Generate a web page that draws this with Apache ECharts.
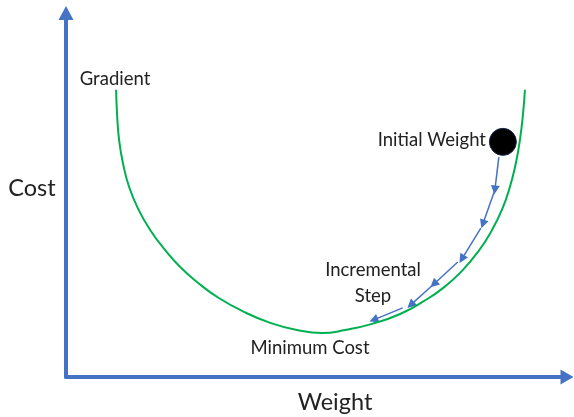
<!DOCTYPE html>
<html>
<head>
<meta charset="utf-8">
<script src="https://cdn.jsdelivr.net/npm/echarts@6/dist/echarts.min.js"></script>
<style>html,body{margin:0;padding:0;background:#fff}#c{width:574px;height:417px}</style>
</head>
<body>
<div id="c"></div>
<script>
// Cost curve (weight, cost), axis units 0-100
const curveWeight = [10.0, 10.2, 10.6, 11.4, 12.6, 14.4, 16.8, 19.6, 22.8, 26.4, 30.5, 35.5, 40.9, 46.1, 51.1, 55.7, 61.1, 66.7, 71.5, 75.5, 79.0, 82.2, 84.8, 87.0, 88.6, 89.8, 90.6, 91.2, 91.6];
const curveCost   = [78.9, 72.0, 65.1, 58.5, 52.2, 46.2, 40.4, 35.2, 30.2, 25.8, 21.7, 17.9, 14.8, 12.9, 12.1, 12.9, 14.6, 17.3, 20.9, 24.7, 29.1, 34.3, 39.8, 45.9, 52.2, 58.8, 65.1, 72.0, 78.9];
// Initial weight point
const initialWeight = [87.2, 64.6];
// Incremental steps: start and end (weight, cost)
const stepFromW = [86.4, 85.6, 82.8, 78.2, 73.0, 67.2];
const stepFromC = [60.4, 51.4, 40.9, 31.6, 25.0, 19.0];
const stepToW   = [85.6, 83.2, 79.0, 73.4, 68.8, 61.4];
const stepToC   = [51.4, 42.0, 32.4, 25.5, 19.8, 15.7];
// Texts
const xTitle = 'Weight';
const yTitle = 'Cost';
const labels = ['Gradient', 'Initial Weight', 'Incremental', 'Step', 'Minimum Cost'];

const chart = echarts.init(document.getElementById('c'));
const blue = '#4472C4';
const font = 'Lato, "Open Sans", sans-serif';
const txt = '#222';

function t(text, x, y, size, align) {
  return { type: 'text', x: x, y: y, style: { text: text, fill: txt, font: size + 'px ' + font, textAlign: align || 'center', textVerticalAlign: 'middle' }, z: 10 };
}

chart.setOption({
  animation: false,
  grid: { left: 66, right: 7, top: 13, bottom: 40 },
  xAxis: {
    type: 'value', min: 0, max: 100,
    axisLine: { show: true, onZero: false, symbol: ['none', 'triangle'], symbolSize: [15, 13], lineStyle: { color: blue, width: 4 } },
    axisTick: { show: false }, axisLabel: { show: false }, splitLine: { show: false }
  },
  yAxis: {
    type: 'value', min: 0, max: 100,
    axisLine: { show: true, onZero: false, symbol: ['none', 'triangle'], symbolSize: [15, 14], lineStyle: { color: blue, width: 4 } },
    axisTick: { show: false }, axisLabel: { show: false }, splitLine: { show: false }
  },
  series: [
    {
      type: 'line', smooth: 0.5, showSymbol: false, silent: true,
      data: curveWeight.map((w, i) => [w, curveCost[i]]),
      lineStyle: { color: '#00B050', width: 2 }
    },
    {
      type: 'lines', coordinateSystem: 'cartesian2d', silent: true,
      symbol: ['none', 'triangle'], symbolSize: 9,
      lineStyle: { color: blue, width: 1.5, opacity: 1 },
      data: stepFromW.map((w, i) => ({ coords: [[w, stepFromC[i]], [stepToW[i], stepToC[i]]] }))
    },
    {
      type: 'scatter', silent: true, symbolSize: 27, z: 5,
      data: [initialWeight],
      itemStyle: { color: '#000', opacity: 1, borderColor: '#1a2a4a', borderWidth: 1 }
    }
  ],
  graphic: [
    t(labels[0], 115, 79, 18.5),
    t(labels[1], 486, 140, 18.5, 'right'),
    t(labels[2], 373, 270, 18.5),
    t(labels[3], 373, 296, 18.5),
    t(labels[4], 310, 348, 18.5),
    t(yTitle, 32, 188, 23.5),
    t(xTitle, 335, 402, 23.5)
  ]
});
</script>
</body>
</html>
